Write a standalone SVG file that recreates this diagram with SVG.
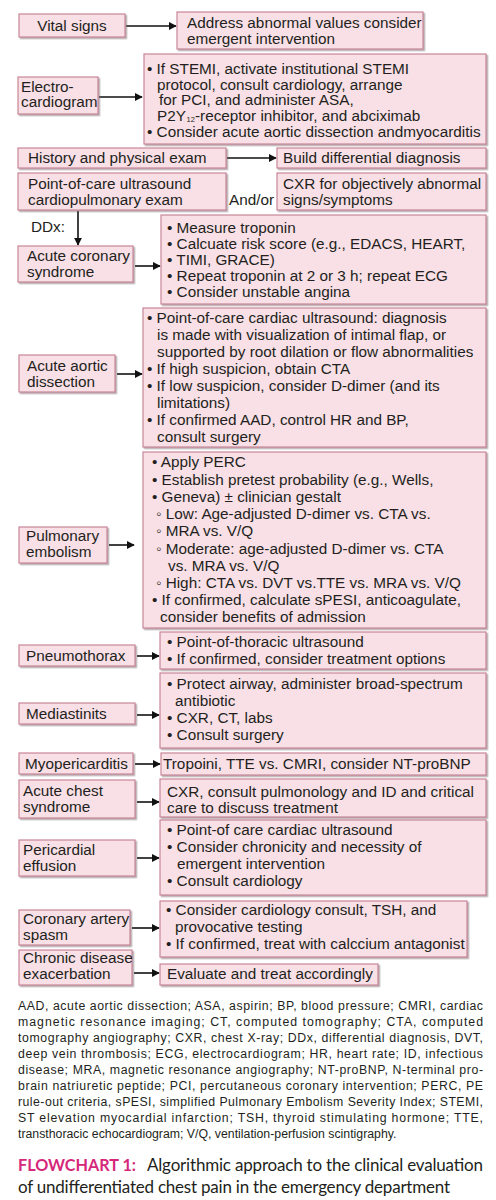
<svg xmlns="http://www.w3.org/2000/svg" width="496" height="1200" viewBox="0 0 496 1200">
<defs>
<style>
.b{fill:#f8e0e6;stroke:#c98598;stroke-width:1.2;filter:url(#sh)}
.t{font-family:"Liberation Sans",Arial,sans-serif;font-size:15.3px;fill:#231f20}
.s{font-family:"Liberation Sans",Arial,sans-serif;font-size:7.5px;fill:#231f20}
.f{font-family:"Liberation Sans",Arial,sans-serif;font-size:12.3px;fill:#231f20}
.c{font-family:Lato,"Open Sans",sans-serif;font-size:17px;fill:#231f20}
.k{fill:#d6287a;font-weight:bold}
.a{stroke:#111;stroke-width:1.6;fill:none;marker-end:url(#ah)}
</style>
<filter id="sh" x="-5%" y="-5%" width="110%" height="120%">
<feDropShadow dx="1.5" dy="1.5" stdDeviation="0.7" flood-color="#7a6a70" flood-opacity="0.55"/>
</filter>
<marker id="ah" viewBox="0 0 10 10" refX="9" refY="5" markerWidth="5" markerHeight="5" orient="auto" markerUnits="strokeWidth">
<path d="M0,0 L10,5 L0,10 z" fill="#111"/>
</marker>
</defs>
<rect width="496" height="1200" fill="#fff"/>

<g id="connectors">
<line class="a" x1="126" y1="26" x2="176" y2="26"/>
<line class="a" x1="99" y1="97" x2="142" y2="97"/>
<line class="a" x1="227" y1="158" x2="276" y2="158"/>
<line class="a" x1="78" y1="211" x2="78" y2="245"/>
<line class="a" x1="135" y1="266" x2="160" y2="266"/>
<line class="a" x1="117" y1="374" x2="142" y2="374"/>
<line class="a" x1="109" y1="545" x2="134" y2="545"/>
<line class="a" x1="137" y1="656" x2="159" y2="656"/>
<line class="a" x1="137" y1="715" x2="159" y2="715"/>
<line class="a" x1="135" y1="764" x2="160" y2="764"/>
<line class="a" x1="137" y1="802" x2="159" y2="802"/>
<line class="a" x1="137" y1="858" x2="159" y2="858"/>
<line class="a" x1="132" y1="928" x2="159" y2="928"/>
<line class="a" x1="134" y1="973" x2="159" y2="973"/>
</g>

<g id="vital"><rect class="b" x="19" y="14" width="106" height="23"/><text class="t" x="72" y="31" text-anchor="middle">Vital signs</text></g>
<g id="address"><rect class="b" x="177" y="12" width="246" height="37"/><text class="t" x="187" y="28">Address abnormal values consider</text><text class="t" x="187" y="44">emergent intervention</text></g>

<g id="ecg"><rect class="b" x="18" y="77" width="80" height="37"/><text class="t" x="21" y="92">Electro-</text><text class="t" x="21" y="107">cardiogram</text></g>
<g id="stemi"><rect class="b" x="144" y="54" width="342" height="90"/>
<text class="t" x="147" y="74">• If STEMI, activate institutional STEMI</text>
<text class="t" x="157" y="89.5">protocol, consult cardiology, arrange</text>
<text class="t" x="159" y="105">for PCI, and administer ASA,</text>
<text class="t" x="157" y="120.5">P2Y</text>
<text class="s" x="186.5" y="121.5">12</text>
<text class="t" x="195" y="120.5">-receptor inhibitor, and abciximab</text>
<text class="t" x="147" y="137">• Consider acute aortic dissection andmyocarditis</text></g>

<g id="history"><rect class="b" x="18" y="148" width="208" height="20"/><text class="t" x="28" y="163">History and physical exam</text></g>
<g id="ddx"><rect class="b" x="277" y="148" width="209" height="20"/><text class="t" x="283" y="163">Build differential diagnosis</text></g>
<g id="pocus"><rect class="b" x="18" y="173" width="208" height="37"/><text class="t" x="28" y="189">Point-of-care ultrasound</text><text class="t" x="28" y="205">cardiopulmonary exam</text></g>
<text class="t" x="229" y="205">And/or</text>
<g id="cxr"><rect class="b" x="277" y="173" width="209" height="37"/><text class="t" x="283" y="189">CXR for objectively abnormal</text><text class="t" x="283" y="205">signs/symptoms</text></g>
<text class="t" x="31" y="232">DDx:</text>

<g id="acs"><rect class="b" x="18" y="246" width="115" height="36"/><text class="t" x="27" y="261">Acute coronary</text><text class="t" x="27" y="277">syndrome</text></g>
<g id="acs-d"><rect class="b" x="161" y="215" width="325" height="89"/>
<text class="t" x="167" y="233">• Measure troponin</text>
<text class="t" x="167" y="249">• Calcuate risk score (e.g., EDACS, HEART,</text>
<text class="t" x="167" y="265">• TIMI, GRACE)</text>
<text class="t" x="167" y="281">• Repeat troponin at 2 or 3 h; repeat ECG</text>
<text class="t" x="167" y="297">• Consider unstable angina</text></g>

<g id="aad"><rect class="b" x="19" y="355" width="96" height="37"/><text class="t" x="27" y="371">Acute aortic</text><text class="t" x="27" y="387">dissection</text></g>
<g id="aad-d"><rect class="b" x="143" y="308" width="343" height="139"/>
<text class="t" x="147" y="323">• Point-of-care cardiac ultrasound: diagnosis</text>
<text class="t" x="157" y="340">is made with visualization of intimal flap, or</text>
<text class="t" x="157" y="357">supported by root dilation or flow abnormalities</text>
<text class="t" x="147" y="374">• If high suspicion, obtain CTA</text>
<text class="t" x="147" y="391">• If low suspicion, consider D-dimer (and its</text>
<text class="t" x="157" y="408">limitations)</text>
<text class="t" x="147" y="425">• If confirmed AAD, control HR and BP,</text>
<text class="t" x="157" y="442">consult surgery</text></g>

<g id="pe"><rect class="b" x="19" y="527" width="88" height="36"/><text class="t" x="26" y="541">Pulmonary</text><text class="t" x="26" y="557">embolism</text></g>
<g id="pe-d"><rect class="b" x="143" y="452" width="343" height="176"/>
<text class="t" x="152" y="467">• Apply PERC</text>
<text class="t" x="152" y="485">• Establish pretest probability (e.g., Wells,</text>
<text class="t" x="152" y="502">• Geneva) ± clinician gestalt</text>
<text class="t" x="156" y="519">◦ Low: Age-adjusted D-dimer vs. CTA vs.</text>
<text class="t" x="156" y="536">◦ MRA vs. V/Q</text>
<text class="t" x="156" y="554">◦ Moderate: age-adjusted D-dimer vs. CTA</text>
<text class="t" x="168" y="571">vs. MRA vs. V/Q</text>
<text class="t" x="156" y="588">◦ High: CTA vs. DVT vs.TTE vs. MRA vs. V/Q</text>
<text class="t" x="152" y="605">• If confirmed, calculate sPESI, anticoagulate,</text>
<text class="t" x="160" y="622">consider benefits of admission</text></g>

<g id="ptx"><rect class="b" x="19" y="645" width="116" height="21"/><text class="t" x="26" y="661">Pneumothorax</text></g>
<g id="ptx-d"><rect class="b" x="160" y="632" width="326" height="37"/>
<text class="t" x="167" y="647">• Point-of-thoracic ultrasound</text>
<text class="t" x="167" y="664">• If confirmed, consider treatment options</text></g>

<g id="med"><rect class="b" x="19" y="703" width="116" height="21"/><text class="t" x="26" y="719">Mediastinits</text></g>
<g id="med-d"><rect class="b" x="160" y="673" width="326" height="75"/>
<text class="t" x="167" y="689">• Protect airway, administer broad-spectrum</text>
<text class="t" x="175" y="706">antibiotic</text>
<text class="t" x="167" y="723">• CXR, CT, labs</text>
<text class="t" x="167" y="740">• Consult surgery</text></g>

<g id="myo"><rect class="b" x="19" y="753" width="114" height="21"/><text class="t" x="25" y="769">Myopericarditis</text></g>
<g id="myo-d"><rect class="b" x="161" y="753" width="325" height="22"/><text class="t" x="163" y="769">Tropoini, TTE vs. CMRI, consider NT-proBNP</text></g>

<g id="acs2"><rect class="b" x="19" y="780" width="116" height="38"/><text class="t" x="23" y="796">Acute chest</text><text class="t" x="23" y="812">syndrome</text></g>
<g id="acs2-d"><rect class="b" x="160" y="779" width="326" height="38"/><text class="t" x="167" y="797">CXR, consult pulmonology and ID and critical</text><text class="t" x="167" y="813">care to discuss treatment</text></g>

<g id="peri"><rect class="b" x="19" y="840" width="116" height="36"/><text class="t" x="23" y="855">Pericardial</text><text class="t" x="23" y="871">effusion</text></g>
<g id="peri-d"><rect class="b" x="160" y="820" width="326" height="75"/>
<text class="t" x="167" y="835">• Point-of care cardiac ultrasound</text>
<text class="t" x="167" y="852">• Consider chronicity and necessity of</text>
<text class="t" x="177" y="869">emergent intervention</text>
<text class="t" x="167" y="886">• Consult cardiology</text></g>

<g id="spasm"><rect class="b" x="19" y="910" width="111" height="35"/><text class="t" x="23" y="924">Coronary artery</text><text class="t" x="23" y="940">spasm</text></g>
<g id="spasm-d"><rect class="b" x="160" y="901" width="307" height="56"/>
<text class="t" x="166" y="915">• Consider cardiology consult, TSH, and</text>
<text class="t" x="175" y="932">provocative testing</text>
<text class="t" x="166" y="949">• If confirmed, treat with calccium antagonist</text></g>

<g id="chronic"><rect class="b" x="19" y="950" width="113" height="35"/><text class="t" x="23" y="963">Chronic disease</text><text class="t" x="23" y="979">exacerbation</text></g>
<g id="chronic-d"><rect class="b" x="160" y="964" width="218" height="21"/><text class="t" x="167" y="979">Evaluate and treat accordingly</text></g>

<g id="footnote">
<text class="f" x="18" y="1010" textLength="465" lengthAdjust="spacing">AAD, acute aortic dissection; ASA, aspirin; BP, blood pressure; CMRI, cardiac</text>
<text class="f" x="18" y="1026" textLength="465" lengthAdjust="spacing">magnetic resonance imaging; CT, computed tomography; CTA, computed</text>
<text class="f" x="18" y="1042" textLength="465" lengthAdjust="spacing">tomography angiography; CXR, chest X-ray; DDx, differential diagnosis, DVT,</text>
<text class="f" x="18" y="1058" textLength="465" lengthAdjust="spacing">deep vein thrombosis; ECG, electrocardiogram; HR, heart rate; ID, infectious</text>
<text class="f" x="18" y="1074" textLength="465" lengthAdjust="spacing">disease; MRA, magnetic resonance angiography; NT-proBNP, N-terminal pro-</text>
<text class="f" x="18" y="1090" textLength="465" lengthAdjust="spacing">brain natriuretic peptide; PCI, percutaneous coronary intervention; PERC, PE</text>
<text class="f" x="18" y="1106" textLength="465" lengthAdjust="spacing">rule-out criteria, sPESI, simplified Pulmonary Embolism Severity Index; STEMI,</text>
<text class="f" x="18" y="1122" textLength="465" lengthAdjust="spacing">ST elevation myocardial infarction; TSH, thyroid stimulating hormone; TTE,</text>
<text class="f" x="18" y="1138">transthoracic echocardiogram; V/Q, ventilation-perfusion scintigraphy.</text>
</g>
<g id="caption">
<text class="c k" x="18" y="1171" textLength="118" lengthAdjust="spacingAndGlyphs">FLOWCHART 1:</text>
<text class="c" x="147" y="1171" textLength="336" lengthAdjust="spacing">Algorithmic approach to the clinical evaluation</text>
<text class="c" x="18" y="1192.5" textLength="432" lengthAdjust="spacing">of undifferentiated chest pain in the emergency department</text>
</g>
</svg>
